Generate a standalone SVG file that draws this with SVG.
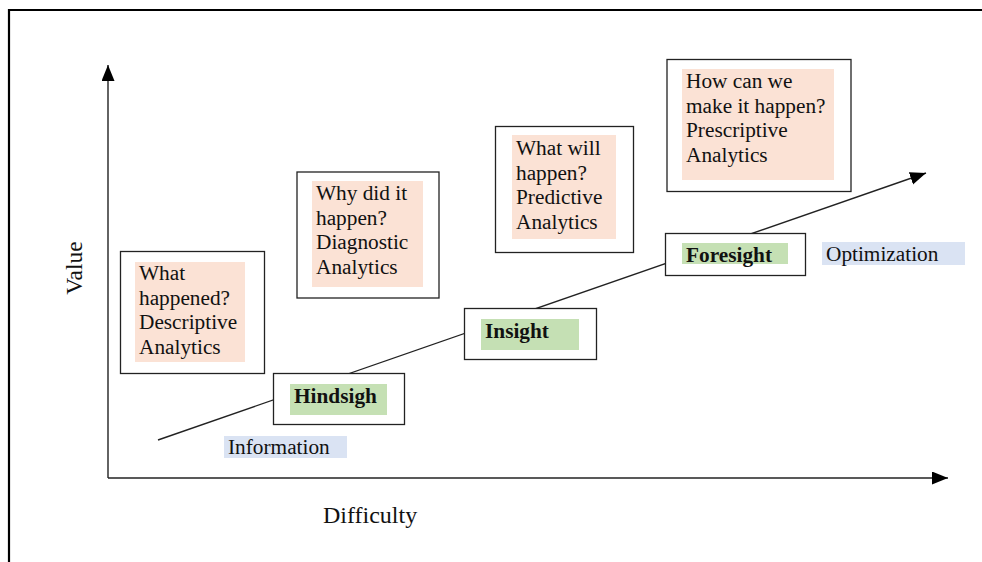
<svg xmlns="http://www.w3.org/2000/svg" width="982" height="562" viewBox="0 0 982 562">
<style>
.t{font-family:"Liberation Serif","Times New Roman",serif;font-size:21.3px;fill:#111}
.b{font-weight:bold}
.box{fill:#fff;stroke:#222;stroke-width:1.3}
.pink{fill:#FBE2D5}
.green{fill:#C5E0B4}
.blue{fill:#DAE3F3}
.ln{stroke:#222;stroke-width:1.4;fill:none}
</style>
<defs>
<marker id="ah" markerUnits="userSpaceOnUse" markerWidth="18" markerHeight="14" refX="16" refY="6.5" orient="auto">
<polygon points="0,0 16,6.5 0,13" fill="#000"/>
</marker>
</defs>
<rect width="982" height="562" fill="#fff"/>
<path d="M9,562 V10 H982" fill="none" stroke="#000" stroke-width="2.2"/>
<g id="connectors">
<line class="ln" x1="108" y1="478" x2="108" y2="65" marker-end="url(#ah)"/>
<line class="ln" x1="108" y1="478" x2="948" y2="478" marker-end="url(#ah)"/>
<line class="ln" x1="158" y1="440" x2="926" y2="173" marker-end="url(#ah)"/>
</g>
<g id="axis-labels">
<text class="t" style="font-size:24px" x="323" y="523">Difficulty</text>
<text class="t" style="font-size:23.5px" text-anchor="middle" transform="translate(82,268) rotate(-90)">Value</text>
</g>
<g id="descriptive">
<rect class="box" x="120.5" y="251.5" width="144" height="122"/>
<rect class="pink" x="135" y="262" width="110" height="100"/>
<text class="t" x="139" y="280">What</text>
<text class="t" x="139" y="304.5">happened?</text>
<text class="t" x="139" y="329">Descriptive</text>
<text class="t" x="139" y="353.5">Analytics</text>
</g>
<g id="diagnostic">
<rect class="box" x="297" y="172" width="142" height="126"/>
<rect class="pink" x="312" y="181" width="111" height="106"/>
<text class="t" x="316" y="200">Why did it</text>
<text class="t" x="316" y="224.5">happen?</text>
<text class="t" x="316" y="249">Diagnostic</text>
<text class="t" x="316" y="273.5">Analytics</text>
</g>
<g id="predictive">
<rect class="box" x="495.5" y="126.5" width="138" height="126"/>
<rect class="pink" x="512" y="135" width="104" height="104"/>
<text class="t" x="516" y="155">What will</text>
<text class="t" x="516" y="179.5">happen?</text>
<text class="t" x="516" y="204">Predictive</text>
<text class="t" x="516" y="228.5">Analytics</text>
</g>
<g id="prescriptive">
<rect class="box" x="667" y="59.5" width="184" height="132"/>
<rect class="pink" x="682" y="69" width="152" height="111"/>
<text class="t" x="686" y="88">How can we</text>
<text class="t" x="686" y="112.5">make it happen?</text>
<text class="t" x="686" y="137">Prescriptive</text>
<text class="t" x="686" y="161.5">Analytics</text>
</g>
<g id="hindsight">
<rect class="box" x="273.5" y="373.5" width="131" height="51"/>
<rect class="green" x="290" y="384" width="97" height="31"/>
<text class="t b" x="294" y="403">Hindsigh</text>
</g>
<g id="insight">
<rect class="box" x="464.5" y="308.5" width="132" height="51"/>
<rect class="green" x="481" y="319" width="98" height="31"/>
<text class="t b" x="485" y="338">Insight</text>
</g>
<g id="foresight">
<rect class="box" x="665.5" y="233.5" width="140" height="42"/>
<rect class="green" x="682" y="243" width="106" height="21"/>
<text class="t b" x="686" y="262">Foresight</text>
</g>
<g id="optimization">
<rect class="blue" x="822" y="242" width="143" height="23"/>
<text class="t" x="826" y="261">Optimization</text>
</g>
<g id="information">
<rect class="blue" x="224" y="436" width="123" height="22"/>
<text class="t" x="228" y="454">Information</text>
</g>
</svg>
